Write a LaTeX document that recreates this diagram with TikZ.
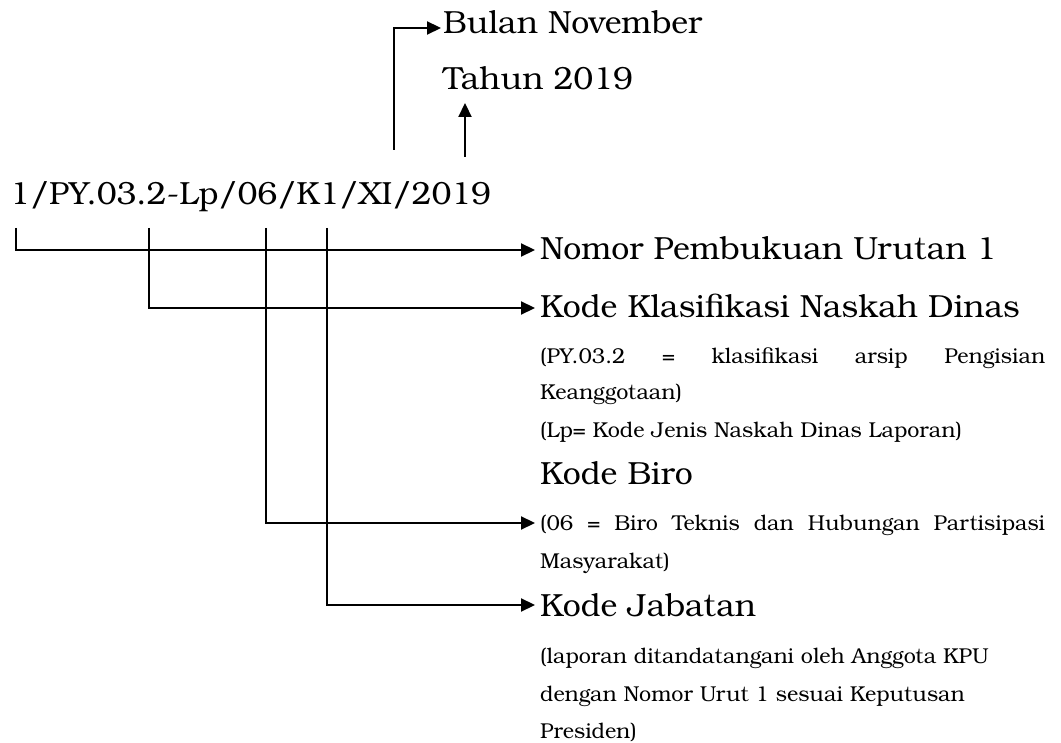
\documentclass[tikz,border=0pt]{standalone}
\usepackage{fontspec}
\setmainfont{TeX Gyre Bonum}
\usetikzlibrary{arrows.meta}
\begin{document}
\begin{tikzpicture}[x=1pt,y=-1pt,
  big/.style={font=\fontsize{32}{38}\selectfont, inner sep=0pt, anchor=base west},
  small/.style={font=\fontsize{21.5}{26}\selectfont, inner sep=0pt, anchor=base west},
  conn/.style={line width=2.2pt, -{Triangle[length=14pt,width=13pt]}}]
\useasboundingbox (0,0) rectangle (1061,743);
\node[big] (code) at (10,205) {1/PY.03.2-Lp/06/K1/XI/2019};
\node[big] (bulan) at (443,34) {Bulan November};
\node[big] (tahun) at (443,90) {Tahun 2019};
\node[big] (nomor) at (540,260) {Nomor Pembukuan Urutan 1};
\node[big] (klas) at (540,318) {Kode Klasifikasi Naskah Dinas};
\node[small] (py) at (540,364) {\makebox[505pt][s]{(PY.03.2 = klasifikasi arsip Pengisian}};
\node[small] (keang) at (540,400) {Keanggotaan)};
\node[small] (lp) at (540,438) {(Lp= Kode Jenis Naskah Dinas Laporan)};
\node[big] (biro) at (540,484) {Kode Biro};
\node[small] (biroket) at (540,530) {\makebox[505pt][s]{(06 = Biro Teknis dan Hubungan Partisipasi}};
\node[small] (masy) at (540,568) {Masyarakat)};
\node[big] (jab) at (540,616) {Kode Jabatan};
\node[small] (lap1) at (540,663) {(laporan ditandatangani oleh Anggota KPU};
\node[small] (lap2) at (540,701) {dengan Nomor Urut 1 sesuai Keputusan};
\node[small] (lap3) at (540,738) {Presiden)};
\coordinate (t1) at (16,228);
\coordinate (t2) at (149,228);
\coordinate (t3) at (266,228);
\coordinate (t4) at (327,228);
\coordinate (e1) at (535,250);
\coordinate (e2) at (535,308);
\coordinate (e3) at (535,523);
\coordinate (e4) at (535,605);
\coordinate (u1) at (394,150);
\coordinate (b1) at (441,28);
\coordinate (u2) at (465,157);
\coordinate (b2) at (465,103);
\draw[conn] (t1) |- (e1);
\draw[conn] (t2) |- (e2);
\draw[conn] (t3) |- (e3);
\draw[conn] (t4) |- (e4);
\draw[conn] (u1) |- (b1);
\draw[conn] (u2) -- (b2);
\end{tikzpicture}
\end{document}
